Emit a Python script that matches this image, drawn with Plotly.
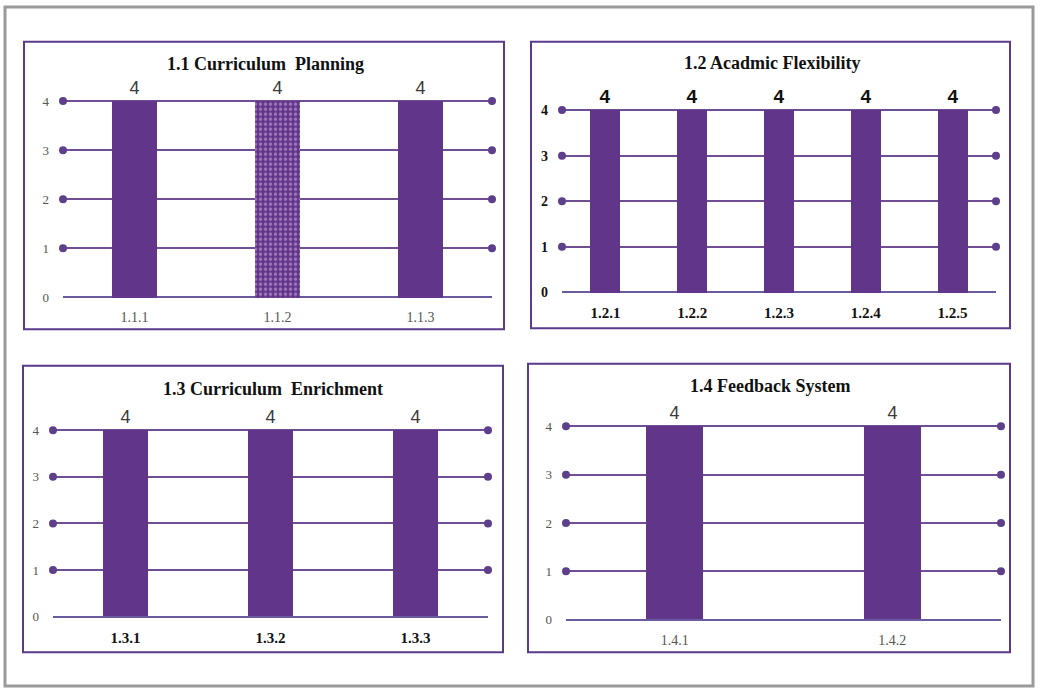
import plotly.graph_objects as go

W, H = 1040, 697

# ---- data -------------------------------------------------------------
titles = ["1.1 Curriculum  Planning", "1.2 Acadmic Flexibility",
          "1.3 Curriculum  Enrichment", "1.4 Feedback System"]
cats_11 = ["1.1.1", "1.1.2", "1.1.3"]
vals_11 = [4, 4, 4]
cats_12 = ["1.2.1", "1.2.2", "1.2.3", "1.2.4", "1.2.5"]
vals_12 = [4, 4, 4, 4, 4]
cats_13 = ["1.3.1", "1.3.2", "1.3.3"]
vals_13 = [4, 4, 4]
cats_14 = ["1.4.1", "1.4.2"]
vals_14 = [4, 4]
y_ticks = [0, 1, 2, 3, 4]

# ---- styling ----------------------------------------------------------
BAR = "#61368a"
GRID = "#6f4e93"
BASE = "#6a5a9e"
DOT = "#5d3f8c"
FRAME = "#5b3a8c"
SERIF = "Liberation Serif, Times New Roman, serif"
SANS = "Liberation Sans, Arial, sans-serif"

# per-panel geometry in pixels: plot left/right, y=0 row, y=4 row
panels = [
    dict(cats=cats_11, vals=vals_11, px=(63, 492), py=(300, 102), bw=0.315,
         pattern=["", ".", ""], box=(24, 42, 504, 332), title_xy=(265, 65),
         lab_font=dict(family=SANS, size=18, color="#3a3a3a"),
         ytick_font=dict(family=SERIF, size=13, color="#555555"),
         xtick_font=dict(family=SERIF, size=14, color="#555555")),
    dict(cats=cats_12, vals=vals_12, px=(562, 996), py=(295, 111), bw=0.345,
         pattern=[""] * 5, box=(531, 42, 1010, 331), title_xy=(772, 64),
         lab_font=dict(family=SANS, size=19, color="#111111", weight="bold"),
         ytick_font=dict(family=SERIF, size=14, color="#111111", weight="bold"),
         xtick_font=dict(family=SERIF, size=15, color="#111111", weight="bold")),
    dict(cats=cats_13, vals=vals_13, px=(53, 488), py=(622, 434), bw=0.31,
         pattern=[""] * 3, box=(23, 369, 503, 658), title_xy=(273, 392),
         lab_font=dict(family=SANS, size=18, color="#3a3a3a"),
         ytick_font=dict(family=SERIF, size=13, color="#555555"),
         xtick_font=dict(family=SERIF, size=15, color="#111111", weight="bold")),
    dict(cats=cats_14, vals=vals_14, px=(566, 1001), py=(625, 430), bw=0.262,
         pattern=[""] * 2, box=(528, 367, 1010, 658), title_xy=(770, 389),
         lab_font=dict(family=SANS, size=18, color="#3a3a3a"),
         ytick_font=dict(family=SERIF, size=13, color="#555555"),
         xtick_font=dict(family=SERIF, size=14, color="#555555")),
]

fig = go.Figure()
YMIN, YMAX = -0.04, 4.6
shapes = []
annotations = []

for i, p in enumerate(panels, start=1):
    n = len(p["cats"])
    xs = [k + 0.5 for k in range(n)]
    xa = "x" if i == 1 else f"x{i}"
    ya = "y" if i == 1 else f"y{i}"
    unit = (p["py"][0] - p["py"][1]) / 4.0
    top_px = p["py"][0] - YMAX * unit
    bot_px = p["py"][0] - YMIN * unit
    xdom = [p["px"][0] / W, p["px"][1] / W]
    ydom = [1 - bot_px / H, 1 - top_px / H]

    # bars
    fig.add_trace(go.Bar(
        x=xs, y=p["vals"], width=p["bw"], xaxis=xa, yaxis=ya,
        marker=dict(color=BAR, line=dict(width=0),
                    pattern=dict(shape=p["pattern"], fgcolor="#e0b8e6",
                                 size=5, solidity=0.35, fillmode="overlay")),
        text=[str(v) for v in p["vals"]], textposition="outside",
        textfont=p["lab_font"], constraintext="none", cliponaxis=False,
        showlegend=False, hoverinfo="skip"))

    # end dots on grid rows 1..4
    dx, dy = [], []
    for k in y_ticks[1:]:
        dx += [0, n]
        dy += [k, k]
    fig.add_trace(go.Scatter(
        x=dx, y=dy, mode="markers", xaxis=xa, yaxis=ya,
        marker=dict(color=DOT, size=8), cliponaxis=False,
        showlegend=False, hoverinfo="skip"))

    xkey = "xaxis" if i == 1 else f"xaxis{i}"
    ykey = "yaxis" if i == 1 else f"yaxis{i}"
    fig.update_layout(**{
        xkey: dict(domain=xdom, anchor=ya, range=[0, n], tickvals=xs,
                   ticktext=p["cats"], showgrid=False, zeroline=False,
                   showline=False, ticks="", tickfont=p["xtick_font"],
                   ticklabelstandoff=8, fixedrange=True),
        ykey: dict(domain=ydom, anchor=xa, range=[YMIN, YMAX],
                   tickvals=y_ticks, showgrid=True, gridcolor=GRID,
                   gridwidth=1.5, zeroline=True, zerolinecolor=BASE,
                   zerolinewidth=1.5, showline=False, ticks="",
                   tickfont=p["ytick_font"], ticklabelstandoff=13,
                   fixedrange=True),
    })

    x0, y0, x1, y1 = p["box"]
    shapes.append(dict(type="rect", xref="paper", yref="paper",
                       x0=x0 / W, x1=x1 / W, y0=1 - y1 / H, y1=1 - y0 / H,
                       line=dict(color=FRAME, width=2), layer="below"))
    tx, ty = p["title_xy"]
    annotations.append(dict(text=f"<b>{titles[i - 1]}</b>", xref="paper",
                            yref="paper", x=tx / W, y=1 - ty / H,
                            xanchor="center", yanchor="middle",
                            showarrow=False,
                            font=dict(family=SERIF, size=18, color="#111111")))

# outer frame
shapes.append(dict(type="rect", xref="paper", yref="paper",
                   x0=5 / W, x1=1033 / W, y0=1 - 692 / H, y1=1 - 7 / H,
                   line=dict(color="#9a9a9a", width=3), layer="below"))

fig.update_layout(width=W, height=H, margin=dict(l=0, r=0, t=0, b=0),
                  paper_bgcolor="white", plot_bgcolor="white",
                  shapes=shapes, annotations=annotations, bargap=0,
                  showlegend=False)

fig.write_html("out.html")
